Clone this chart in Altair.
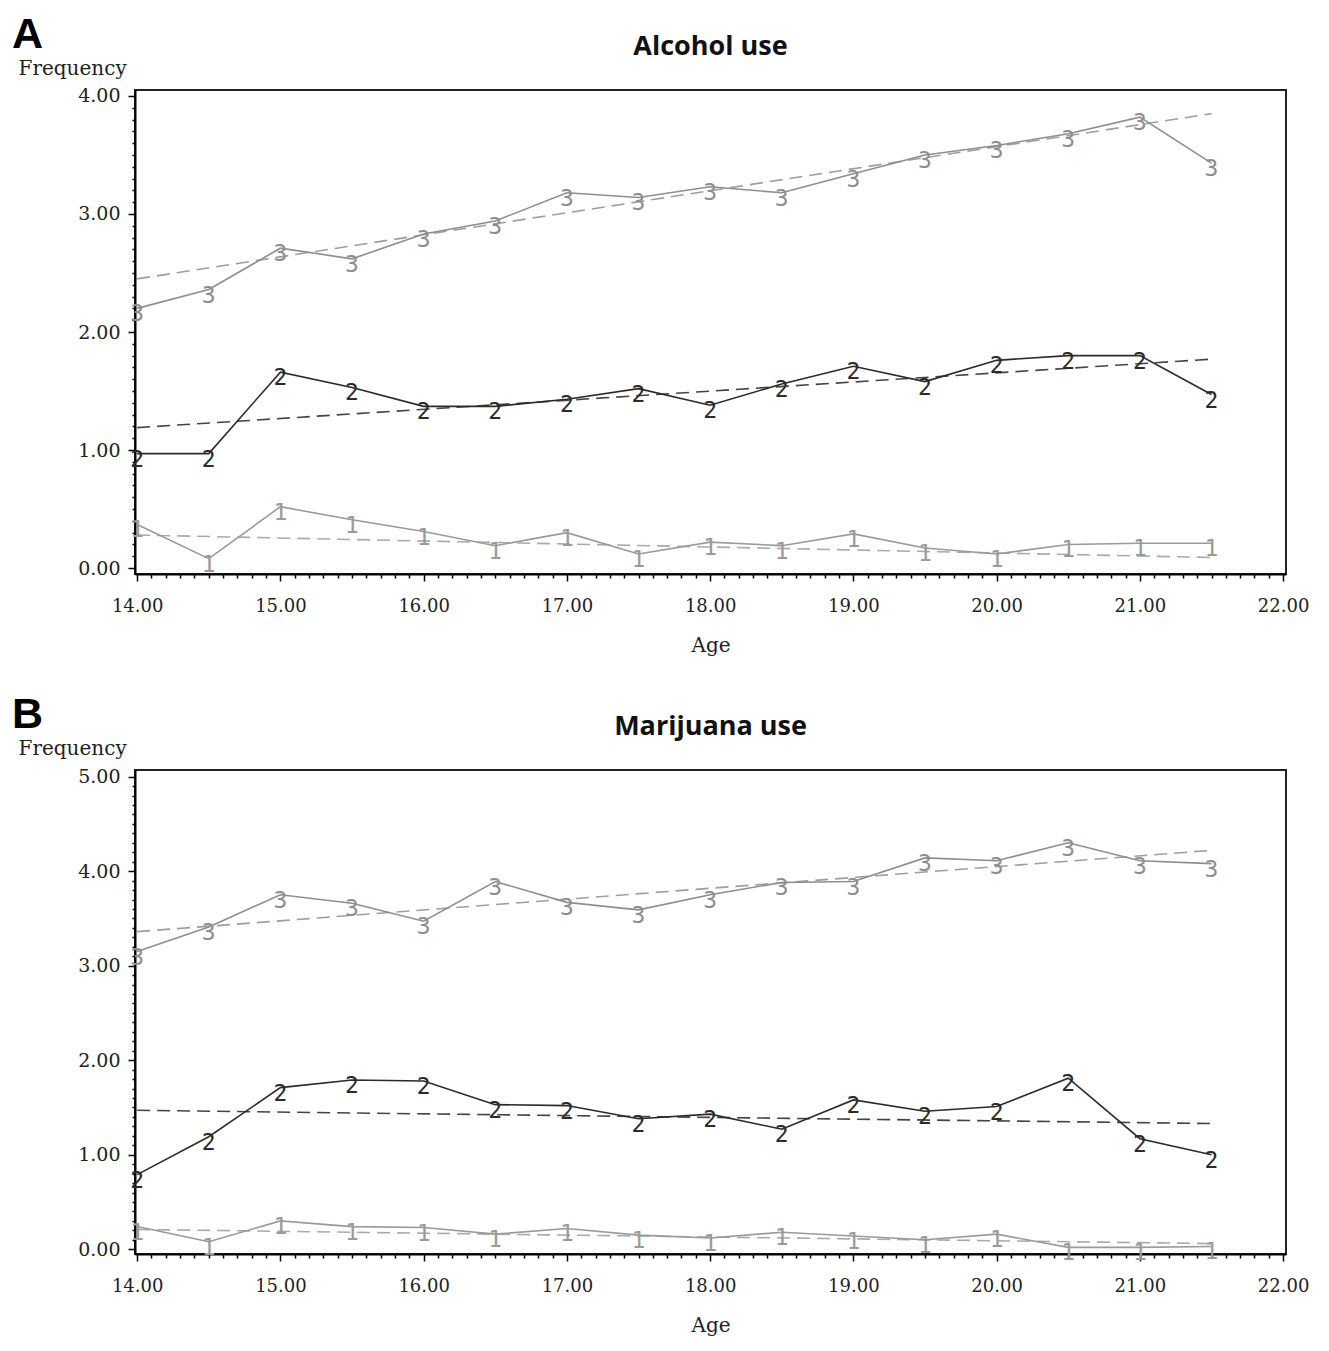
import altair as alt
import pandas as pd

ages = [14.0, 14.5, 15.0, 15.5, 16.0, 16.5, 17.0, 17.5, 18.0, 18.5, 19.0, 19.5, 20.0, 20.5, 21.0, 21.5]

alc_g1 = [0.37, 0.08, 0.52, 0.41, 0.31, 0.19, 0.30, 0.12, 0.22, 0.19, 0.29, 0.17, 0.12, 0.20, 0.21, 0.21]
alc_g2 = [0.97, 0.97, 1.66, 1.53, 1.37, 1.37, 1.43, 1.52, 1.38, 1.56, 1.71, 1.58, 1.76, 1.80, 1.80, 1.47]
alc_g3 = [2.20, 2.36, 2.71, 2.62, 2.83, 2.94, 3.18, 3.14, 3.23, 3.18, 3.34, 3.50, 3.58, 3.68, 3.82, 3.43]

mar_g1 = [0.24, 0.08, 0.30, 0.24, 0.23, 0.16, 0.22, 0.15, 0.12, 0.18, 0.14, 0.10, 0.16, 0.02, 0.02, 0.03]
mar_g2 = [0.79, 1.19, 1.71, 1.79, 1.78, 1.53, 1.52, 1.38, 1.43, 1.27, 1.58, 1.46, 1.51, 1.81, 1.17, 1.00]
mar_g3 = [3.15, 3.41, 3.75, 3.66, 3.47, 3.89, 3.67, 3.59, 3.75, 3.88, 3.89, 4.14, 4.11, 4.30, 4.11, 4.08]

trend_ages = [14.0, 21.5]
alc_trend_g1 = [0.28, 0.09]
alc_trend_g2 = [1.19, 1.77]
alc_trend_g3 = [2.45, 3.85]
mar_trend_g1 = [0.21, 0.06]
mar_trend_g2 = [1.47, 1.33]
mar_trend_g3 = [3.36, 4.22]

groups = ["1", "2", "3"]
line_colors = ["#9a9a9a", "#2b2b2b", "#8e8e8e"]
trend_colors = ["#aaaaaa", "#444444", "#9e9e9e"]

x_ticks = [round(14 + 0.1 * i, 2) for i in range(81)]

SERIF = "DejaVu Serif"
PLOT_W = 1151
PLOT_H = 484


def long_df(series):
    rows = []
    for g, vals in zip(groups, series):
        for a, v in zip(ages, vals):
            rows.append({"age": a, "freq": v, "grp": g})
    return pd.DataFrame(rows)


def trend_df(series):
    rows = []
    for g, vals in zip(groups, series):
        for a, v in zip(trend_ages, vals):
            rows.append({"age": a, "freq": v, "grp": g})
    return pd.DataFrame(rows)


def panel(series, trends, title, letter, ymax, ydomain):
    df = long_df(series)
    tdf = trend_df(trends)
    y_ticks = [round(0.1 * i, 2) for i in range(int(round(ymax * 10)) + 1)]
    is_major = "abs(datum.value - round(datum.value)) < 0.001"
    xenc = alt.X(
        "age:Q",
        scale=alt.Scale(domain=[13.985, 22.02], nice=False, zero=False),
        axis=alt.Axis(
            values=x_ticks,
            tickCount=1000,
            labelExpr=f"{is_major} ? format(datum.value, '.2f') : ''",
            tickSize={"condition": {"test": is_major, "value": 7}, "value": 4},
            tickColor="black",
            tickWidth=1.5,
            domainColor="black",
            domainWidth=2,
            labelFont=SERIF,
            labelFontSize=18,
            labelColor="#222222",
            labelPadding=16,
            labelOverlap=False,
            labelFlush=False,
            labelBound=False,
            grid=False,
            title="Age",
            titleFont=SERIF,
            titleFontSize=20,
            titleFontWeight="normal",
            titleColor="#222222",
            titlePadding=20,
        ),
    )
    yenc = alt.Y(
        "freq:Q",
        scale=alt.Scale(domain=ydomain, nice=False, zero=False),
        axis=alt.Axis(
            values=y_ticks,
            tickCount=1000,
            labelExpr=f"{is_major} ? format(datum.value, '.2f') : ''",
            tickSize={"condition": {"test": is_major, "value": 7}, "value": 3},
            tickColor="black",
            tickWidth=1.5,
            domainColor="black",
            domainWidth=2,
            labelFont=SERIF,
            labelFontSize=19,
            labelColor="#222222",
            labelPadding=8,
            labelOverlap=False,
            labelFlush=False,
            labelBound=False,
            labelBaseline="middle",
            grid=False,
            title="Frequency",
            titleFont=SERIF,
            titleFontSize=20,
            titleFontWeight="normal",
            titleColor="#222222",
            titleAngle=0,
            titleAlign="left",
            titleBaseline="alphabetic",
            titleX=-117,
            titleY=-16,
        ),
    )
    color = alt.Color("grp:N", scale=alt.Scale(domain=groups, range=line_colors), legend=None)
    tcolor = alt.Color("grp:N", scale=alt.Scale(domain=groups, range=trend_colors), legend=None)

    lines = alt.Chart(df).mark_line(strokeWidth=1.6).encode(x=xenc, y=yenc, color=color, detail="grp:N")
    trend = alt.Chart(tdf).mark_line(strokeWidth=1.6, strokeDash=[13, 7]).encode(
        x="age:Q", y="freq:Q", color=tcolor, detail="grp:N"
    )
    marks = alt.Chart(df).mark_text(
        font="DejaVu Sans Mono", fontSize=23, baseline="top", dy=-5
    ).encode(x="age:Q", y="freq:Q", text="grp:N", color=color)
    lab = alt.Chart(pd.DataFrame({"t": [letter]})).mark_text(
        font="Liberation Sans", fontWeight="bold", fontSize=43, align="left", baseline="alphabetic", color="black"
    ).encode(x=alt.value(-123), y=alt.value(-42), text="t:N")
    ttl = alt.Chart(pd.DataFrame({"t": [title]})).mark_text(
        font="Open Sans", fontWeight="bold", fontSize=27, align="center", baseline="middle", color="#111111"
    ).encode(x=alt.value(PLOT_W / 2), y=alt.value(-43), text="t:N")

    return alt.layer(trend, lines, marks, lab, ttl).resolve_scale(color="independent").properties(
        width=PLOT_W,
        height=PLOT_H,
    )


pa = panel([alc_g1, alc_g2, alc_g3], [alc_trend_g1, alc_trend_g2, alc_trend_g3], "Alcohol use", "A", 4.0, [-0.05, 4.05])
pb = panel([mar_g1, mar_g2, mar_g3], [mar_trend_g1, mar_trend_g2, mar_trend_g3], "Marijuana use", "B", 5.0, [-0.05, 5.07])

chart = alt.vconcat(pa, pb, spacing=37).configure(
    background="white",
    padding={"left": 3, "top": 5, "right": 5, "bottom": 5},
    view=alt.ViewConfig(stroke="#222222", strokeWidth=2),
)

chart.save("out.html", embed_options={"renderer": "svg", "actions": False})
